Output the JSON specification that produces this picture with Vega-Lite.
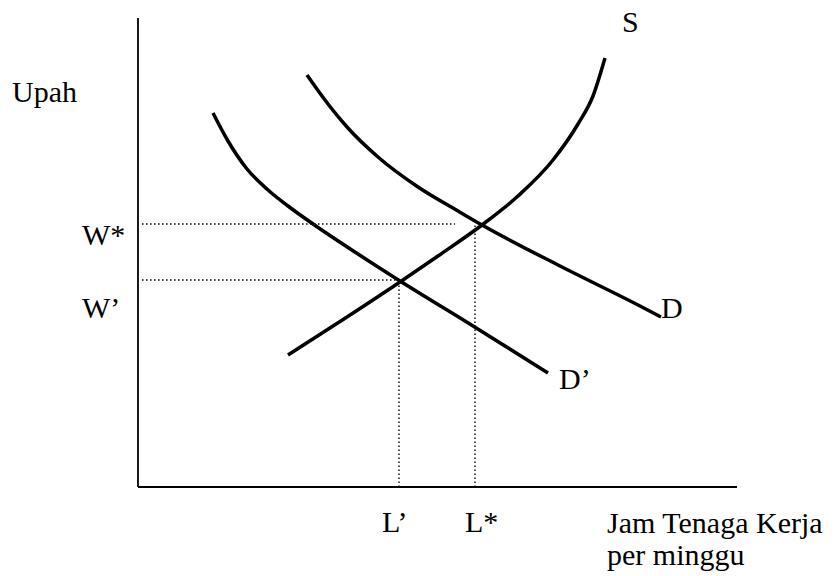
{
  "$schema": "https://vega.github.io/schema/vega-lite/v6.json",
  "width": 836,
  "height": 576,
  "padding": 0,
  "autosize": {"type": "none"},
  "background": "white",
  "config": {"view": {"stroke": null}},
  "datasets": {
    "curves": [
      {"curve": "D'", "x": 75, "y": 374},
      {"curve": "D'", "x": 90, "y": 346},
      {"curve": "D'", "x": 109, "y": 318},
      {"curve": "D'", "x": 130, "y": 297},
      {"curve": "D'", "x": 150, "y": 281},
      {"curve": "D'", "x": 175, "y": 263},
      {"curve": "D'", "x": 220, "y": 233},
      {"curve": "D'", "x": 262, "y": 206},
      {"curve": "D'", "x": 335, "y": 161},
      {"curve": "D'", "x": 410, "y": 114},
      {"curve": "D", "x": 169, "y": 412},
      {"curve": "D", "x": 190, "y": 383},
      {"curve": "D", "x": 209, "y": 360},
      {"curve": "D", "x": 240, "y": 330},
      {"curve": "D", "x": 280, "y": 300},
      {"curve": "D", "x": 320, "y": 276},
      {"curve": "D", "x": 344, "y": 262},
      {"curve": "D", "x": 422, "y": 221},
      {"curve": "D", "x": 502, "y": 181},
      {"curve": "D", "x": 523, "y": 170},
      {"curve": "S", "x": 150, "y": 132},
      {"curve": "S", "x": 209, "y": 170},
      {"curve": "S", "x": 262, "y": 205},
      {"curve": "S", "x": 300, "y": 231},
      {"curve": "S", "x": 344, "y": 262},
      {"curve": "S", "x": 380, "y": 291},
      {"curve": "S", "x": 415, "y": 327},
      {"curve": "S", "x": 440, "y": 363},
      {"curve": "S", "x": 455, "y": 391},
      {"curve": "S", "x": 467, "y": 429}
    ],
    "axes": [
      {"x": 0, "y": 0, "x2": 0, "y2": 469},
      {"x": 0, "y": 0, "x2": 599, "y2": 0}
    ],
    "guides": [
      {"x": 4, "y": 263, "x2": 317, "y2": 263},
      {"x": 4, "y": 207, "x2": 262, "y2": 207},
      {"x": 337, "y": 0, "x2": 337, "y2": 262},
      {"x": 261, "y": 0, "x2": 261, "y2": 205}
    ],
    "labels": [
      {"text": "Upah", "x": -126, "y": 385},
      {"text": "W*", "x": -56, "y": 242},
      {"text": "W’", "x": -56, "y": 169},
      {"text": "L’", "x": 244, "y": -45},
      {"text": "L*", "x": 327, "y": -45},
      {"text": "S", "x": 484, "y": 455},
      {"text": "D", "x": 523, "y": 169},
      {"text": "D’", "x": 421, "y": 98},
      {"text": "Jam Tenaga Kerja", "x": 469, "y": -46},
      {"text": "per minggu", "x": 469, "y": -78}
    ]
  },
  "layer": [
    {
      "data": {"name": "axes"},
      "mark": {"type": "rule", "color": "black", "strokeWidth": 1.8},
      "encoding": {
        "x": {"field": "x", "type": "quantitative", "scale": {"domain": [-138, 698], "nice": false, "zero": false}, "axis": null},
        "y": {"field": "y", "type": "quantitative", "scale": {"domain": [-89, 487], "nice": false, "zero": false}, "axis": null},
        "x2": {"field": "x2"},
        "y2": {"field": "y2"}
      }
    },
    {
      "data": {"name": "guides"},
      "mark": {"type": "rule", "color": "black", "strokeWidth": 1.4, "strokeDash": [1.5, 2.5]},
      "encoding": {
        "x": {"field": "x", "type": "quantitative", "scale": {"domain": [-138, 698], "nice": false, "zero": false}, "axis": null},
        "y": {"field": "y", "type": "quantitative", "scale": {"domain": [-89, 487], "nice": false, "zero": false}, "axis": null},
        "x2": {"field": "x2"},
        "y2": {"field": "y2"}
      }
    },
    {
      "data": {"name": "curves"},
      "mark": {"type": "line", "color": "black", "strokeWidth": 3.5, "interpolate": "monotone"},
      "encoding": {
        "x": {"field": "x", "type": "quantitative", "scale": {"domain": [-138, 698], "nice": false, "zero": false}, "axis": null},
        "y": {"field": "y", "type": "quantitative", "scale": {"domain": [-89, 487], "nice": false, "zero": false}, "axis": null},
        "detail": {"field": "curve", "type": "nominal"},
        "order": {"field": "x", "type": "quantitative"}
      }
    },
    {
      "data": {"name": "labels"},
      "mark": {"type": "text", "font": "Liberation Serif", "fontSize": 30, "align": "left", "baseline": "alphabetic", "color": "black"},
      "encoding": {
        "x": {"field": "x", "type": "quantitative", "scale": {"domain": [-138, 698], "nice": false, "zero": false}, "axis": null},
        "y": {"field": "y", "type": "quantitative", "scale": {"domain": [-89, 487], "nice": false, "zero": false}, "axis": null},
        "text": {"field": "text", "type": "nominal"}
      }
    }
  ]
}
